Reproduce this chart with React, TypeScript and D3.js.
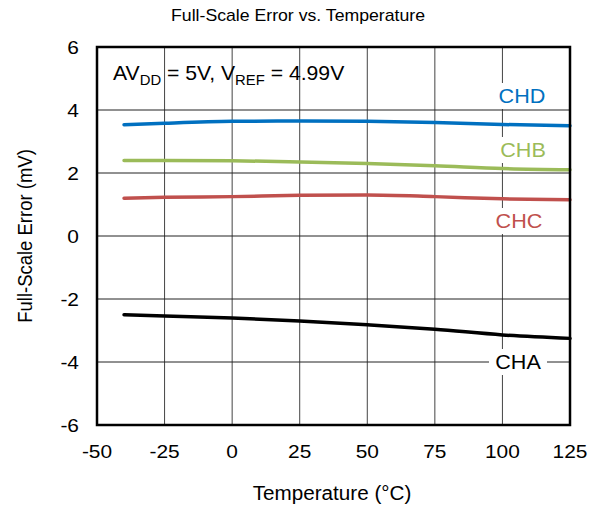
import React from 'react'
import * as d3 from 'd3'

const temps = [-40, -25, 0, 25, 50, 75, 100, 125]
const chd = [3.53, 3.58, 3.64, 3.65, 3.64, 3.6, 3.54, 3.5]
const chb = [2.4, 2.4, 2.39, 2.35, 2.3, 2.23, 2.14, 2.1]
const chc = [1.2, 1.23, 1.25, 1.29, 1.3, 1.25, 1.18, 1.15]
const cha = [-2.5, -2.54, -2.6, -2.7, -2.82, -2.96, -3.14, -3.25]
const xTicks = [-50, -25, 0, 25, 50, 75, 100, 125]
const yTicks = [-6, -4, -2, 0, 2, 4, 6]

const series = [
  { name: 'CHD', values: chd, color: '#0070C0', lx: 522, ly: 96 },
  { name: 'CHB', values: chb, color: '#9BBB59', lx: 523, ly: 150 },
  { name: 'CHC', values: chc, color: '#C0504D', lx: 519, ly: 221 },
  { name: 'CHA', values: cha, color: '#000000', lx: 518, ly: 362 },
]

// text drawn slightly wider than normal, like the source image
function T(props: any) {
  const { x, y, sx = 1.08, rot, children, ...rest } = props
  return (
    <text transform={`translate(${x},${y}) scale(${sx},1)${rot ? ' rotate(-90)' : ''}`} {...rest}>
      {children}
    </text>
  )
}

export default function App() {
  const margin = { left: 97, top: 47, right: 28, bottom: 83 }
  const W = 598, H = 508
  const x = d3.scaleLinear().domain([-50, 125]).range([margin.left, W - margin.right])
  const y = d3.scaleLinear().domain([-6, 6]).range([H - margin.bottom, margin.top])
  const line = d3.line<number>()
    .x((d, i) => x(temps[i]))
    .y(d => y(d))
    .curve(d3.curveMonotoneX)
  const font = 'Arial, "Liberation Sans", sans-serif'

  return (
    <svg width={W} height={H} style={{ position: 'absolute', left: 0, top: 0, fontFamily: font }}>
      <rect width={W} height={H} fill="#fff" />
      {xTicks.slice(1, -1).map(t => (
        <line key={'gx' + t} x1={x(t)} x2={x(t)} y1={y(6)} y2={y(-6)} stroke="#444" strokeWidth={1} />
      ))}
      {yTicks.slice(1, -1).map(t => (
        <line key={'gy' + t} x1={x(-50)} x2={x(125)} y1={y(t)} y2={y(t)} stroke="#222" strokeWidth={1} />
      ))}
      {series.map(s => (
        <path key={s.name} d={line(s.values) || ''} fill="none" stroke={s.color} strokeWidth={3.5} strokeLinecap="round" />
      ))}
      {series.map(s => (
        <g key={'l' + s.name}>
          <rect x={s.lx - 29} y={s.ly - 13} width={58} height={26} fill="#fff" />
          <T x={s.lx} y={s.ly} sx={1.08} fill={s.color} fontSize={20} textAnchor="middle" dominantBaseline="central">{s.name}</T>
        </g>
      ))}
      <rect x={x(-50)} y={y(6)} width={x(125) - x(-50)} height={y(-6) - y(6)} fill="none" stroke="#000" strokeWidth={2.5} />
      <T x={113} y={80} sx={1.06} fontSize={20}>
        AV<tspan fontSize={14} dy={5}>DD</tspan><tspan dy={-5}> = 5V, V</tspan><tspan fontSize={14} dy={5}>REF</tspan><tspan dy={-5}> = 4.99V</tspan>
      </T>
      {xTicks.map(t => (
        <T key={'tx' + t} x={x(t)} y={458} sx={1.1} fontSize={19} textAnchor="middle">{t}</T>
      ))}
      {yTicks.map(t => (
        <T key={'ty' + t} x={79} y={y(t)} sx={1.1} fontSize={19} textAnchor="end" dominantBaseline="central">{t}</T>
      ))}
      <T x={298} y={21} sx={1.04} fontSize={17} textAnchor="middle">Full-Scale Error vs. Temperature</T>
      <T x={332} y={500} sx={1.06} fontSize={19.5} textAnchor="middle">Temperature (°C)</T>
      <T x={32} y={y(0)} sx={1.1} rot fontSize={18.5} textAnchor="middle">Full-Scale Error (mV)</T>
    </svg>
  )
}
